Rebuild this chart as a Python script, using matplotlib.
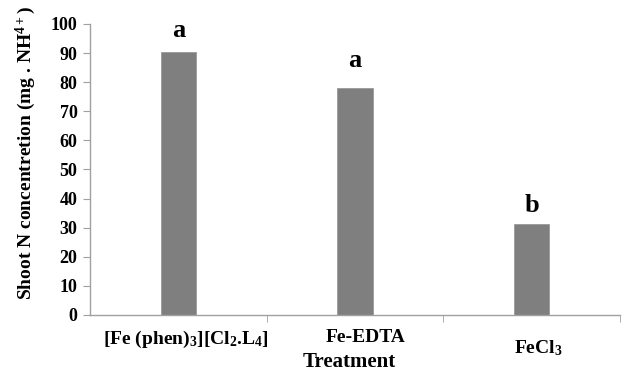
import matplotlib
matplotlib.use("Agg")
import matplotlib.pyplot as plt
import matplotlib.transforms as mtransforms

categories = [r"[Fe (phen)$_3$][Cl$_2$.L$_4$]", "Fe-EDTA", r"FeCl$_3$"]
values = [90.3, 77.9, 31.2]
letters = ["a", "a", "b"]
letter_y = [95.4, 85.1, 35.4]
yticks = list(range(0, 101, 10))

plt.rcParams['font.family'] = ['Liberation Serif', 'DejaVu Serif']
plt.rcParams['font.weight'] = 'bold'
plt.rcParams['mathtext.fontset'] = 'custom'
plt.rcParams['mathtext.rm'] = 'Liberation Serif:bold'
plt.rcParams['mathtext.it'] = 'Liberation Serif:bold'
plt.rcParams['mathtext.bf'] = 'Liberation Serif:bold'

fig = plt.figure(figsize=(6.36, 3.74), dpi=100)
ax = fig.add_axes([0.1415, 0.158, 0.8335, 0.778])

x = list(range(len(categories)))
ax.bar(x, values, width=0.2, color='#7F7F7F', edgecolor='#9A9A9A', linewidth=0.6, zorder=2)
for xi, ly, l in zip(x, letter_y, letters):
    ax.text(xi, ly, l, ha='center', va='baseline', fontsize=19, fontweight='bold')

ax.set_xlim(-0.5, 2.5)
ax.set_ylim(0, 100)
ax.set_yticks(yticks)
ax.set_yticklabels([str(t) for t in yticks], fontsize=13, fontweight='bold')

ax.set_xticks(x)
ax.set_xticklabels(categories, fontsize=14, fontweight='bold')
ax.tick_params(axis='x', which='major', length=0, pad=10)
ax.set_xticks([0.5, 1.5, 2.5], minor=True)
ax.tick_params(axis='x', which='minor', length=5, color='#A0A0A0', direction='out')
ax.tick_params(axis='y', length=5, color='#A0A0A0', direction='out', pad=4)

labs = ax.get_xticklabels()
shifts = [(0.08, 0.0), (0.11, 0.0), (0.07, -0.10)]
for lab, (dx, dy) in zip(labs, shifts):
    lab.set_transform(lab.get_transform() + mtransforms.ScaledTranslation(dx, dy, fig.dpi_scale_trans))

for s in ['top', 'right']:
    ax.spines[s].set_visible(False)
for s in ['left', 'bottom']:
    ax.spines[s].set_color('#A0A0A0')
    ax.spines[s].set_linewidth(1.0)

ax.set_xlabel("Treatment", fontsize=15, fontweight='bold')
ax.xaxis.set_label_coords(0.49, -0.128)
ax.set_ylabel(r"Shoot N concentretion (mg . NH$^{4+}$)", fontsize=14, fontweight='bold')
ax.yaxis.set_label_coords(-0.098, 0.555)

fig.savefig("out.png", dpi=100)
